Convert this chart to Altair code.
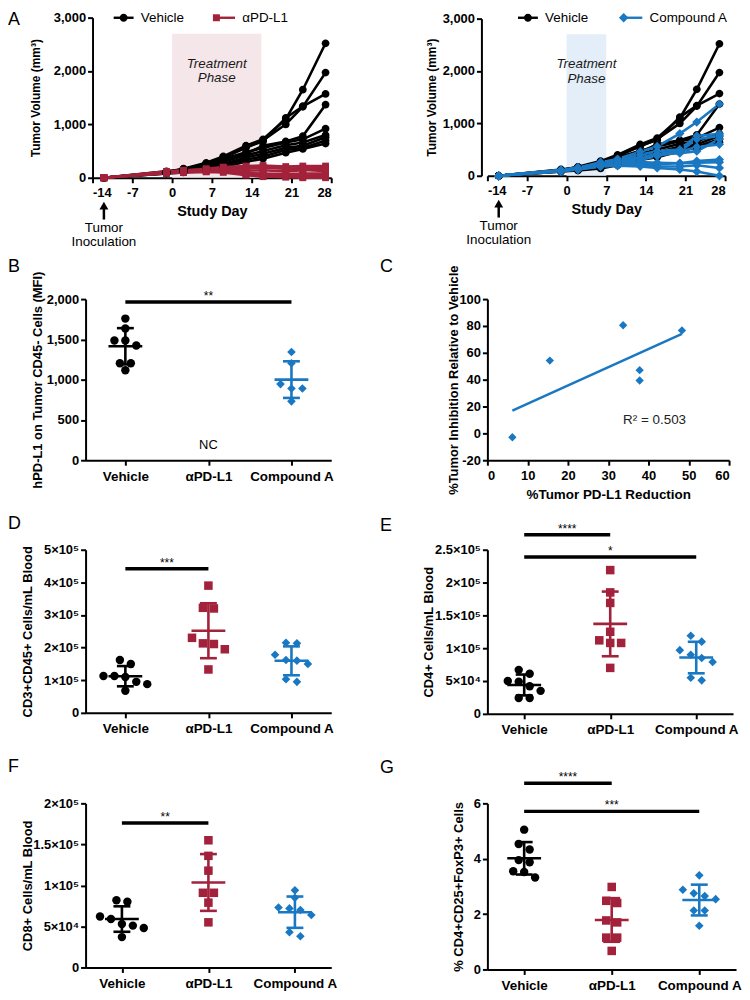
import altair as alt
import numpy as np
import pandas as pd

FONT = "Liberation Sans"

GROUPS = ["Vehicle", "αPD-L1", "Compound A"]
COLORS = ["#000000", "#A3223B", "#1A78C2"]
SHAPES = ["circle", "square", "diamond"]
SHADES = {"αPD-L1": "#F5E6EA", "Compound A": "#E4EEF8"}

# ---------------- Panel A: tumour volume (mm3) per mouse ----------------
DAYS = [-12, -1, 2, 6, 9, 13, 16, 20, 23, 27]
VEHICLE_GROWTH = [
    [0, 100, 170, 280, 400, 600, 720, 1100, 1650, 2520],
    [0, 110, 160, 260, 380, 560, 700, 1000, 1330, 1970],
    [0, 90, 150, 250, 370, 580, 680, 1120, 1340, 1570],
    [0, 100, 140, 220, 330, 450, 600, 680, 780, 1370],
    [0, 120, 160, 240, 350, 480, 560, 660, 720, 920],
    [0, 90, 130, 200, 300, 420, 500, 610, 660, 800],
    [0, 80, 120, 180, 260, 380, 450, 560, 600, 760],
    [0, 100, 110, 160, 240, 340, 400, 520, 560, 700],
    [0, 80, 100, 140, 200, 300, 355, 470, 540, 640],
]
APDL1_GROWTH = [
    [0, 100, 130, 170, 200, 220, 230, 210, 220, 220],
    [0, 110, 120, 150, 180, 170, 190, 170, 180, 180],
    [0, 90, 110, 140, 160, 130, 140, 120, 140, 140],
    [0, 100, 120, 130, 150, 90, 80, 70, 80, 80],
    [0, 80, 100, 120, 120, 60, 50, 40, 40, 50],
    [0, 90, 110, 130, 140, 75, 40, 25, 15, 20],
    [0, 100, 100, 110, 100, 50, 20, 10, 0, 0],
    [0, 120, 140, 160, 190, 200, 200, 180, 160, 120],
]
COMPOUND_A_GROWTH = [
    [0, 100, 150, 260, 320, 460, 560, 805, 1026, 1370],
    [0, 90, 140, 230, 290, 400, 470, 500, 760, 800],
    [0, 110, 160, 250, 280, 350, 420, 470, 700, 760],
    [0, 100, 130, 210, 260, 330, 400, 430, 470, 700],
    [0, 80, 120, 190, 240, 300, 380, 459, 550, 600],
    [0, 100, 140, 220, 240, 260, 250, 240, 280, 310],
    [0, 90, 130, 200, 220, 230, 220, 238, 250, 260],
    [0, 110, 120, 180, 200, 210, 180, 178, 200, 150],
    [0, 100, 125, 176, 190, 180, 150, 120, 80, 0],
]
TREATMENT_PHASE = {"αPD-L1": [0, 15.7], "Compound A": [0, 7]}
INOCULATION_DAY = -12

# ---------------- Panel B: hPD-L1 MFI ----------------
B_VALUES = [
    [1758, 1635, 1487, 1487, 1425, 1203, 1203, 1117],
    [],
    [1343, 1203, 945, 891, 891, 731],
]
B_SIG = [(0, 2, 1963, "**")]

# ---------------- Panel C: correlation ----------------
C_PDL1_REDUCTION = [6.2, 15.5, 33.7, 37.8, 37.8, 48.3]
C_TUMOR_INHIBITION = [-2.9, 54.2, 80.5, 47.1, 39.4, 76.7]

# ---------------- Panel D-G: blood cells ----------------
D_VALUES = [
    [162000, 150000, 113000, 113000, 110000, 95000, 88000, 68000],
    [390000, 322000, 320000, 230000, 213000, 211000, 195000, 133000],
    [215000, 213000, 178000, 162000, 160000, 150000, 103000, 95000],
]
D_SIG = [(0, 1, 441600, "***")]
E_VALUES = [
    [67000, 61000, 50000, 49000, 42000, 35000, 24000, 24000],
    [219000, 185000, 169000, 125000, 112000, 108000, 108000, 70000],
    [119000, 110000, 97000, 90000, 85000, 79000, 55000, 51000],
]
E_SIG = [(0, 1, 272700, "****"), (0, 2, 238900, "*")]
F_VALUES = [
    [82000, 80000, 62000, 59000, 53000, 51000, 48000, 37000],
    [155000, 136000, 118000, 91000, 91000, 79000, 55000],
    [94000, 85000, 73000, 72000, 70000, 64000, 43000, 38000],
]
F_SIG = [(0, 1, 176000, "**")]
G_VALUES = [
    [5.05, 4.53, 4.33, 3.95, 3.87, 3.55, 3.52, 3.32],
    [2.98, 2.48, 2.40, 1.77, 1.70, 1.15, 1.15, 0.67],
    [3.40, 2.88, 2.75, 2.65, 2.54, 2.13, 2.13, 1.58],
]
G_SIG = [(0, 1, 6.73, "****"), (0, 2, 5.71, "***")]

# ---------------- helpers ----------------
SUP = dict(zip("0123456789", "⁰¹²³⁴⁵⁶⁷⁸⁹"))
NUM_EXPR = "(datum.value < 0 ? '-' : '') + format(abs(datum.value), ',.0f')"


def sci_label(v):
    if v == 0:
        return "0"
    e = int(np.floor(np.log10(v) + 1e-9))
    m = v / 10 ** e
    return f"{m:g}×10{SUP[str(e)]}"


def label_expr(ticks, fn):
    parts = " : ".join(f"datum.value == {t} ? '{fn(t)}'" for t in ticks)
    return parts + " : ''"


def letter_layer(letter, lx, ly):
    return alt.Chart(pd.DataFrame({"t": [letter]})).mark_text(
        font=FONT, fontSize=18, align="left", baseline="top", color="black"
    ).encode(x=alt.value(lx), y=alt.value(ly), text="t:N")


# marker-only symbol paths (unit square [-1, 1])
MARKER_PATHS = {
    "circle": "M-0.8,0A0.8,0.8,0,1,0,0.8,0A0.8,0.8,0,1,0,-0.8,0Z",
    "square": "M-0.7,-0.7H0.7V0.7H-0.7Z",
    "diamond": "M0,-0.95L0.95,0L0,0.95L-0.95,0Z",
}
LINE_PATH = "M-2,0H2"
VEHICLE_LABEL_W = 44.3  # width of the "Vehicle" legend label at 13.5px


def growth_df(name, curves):
    rows = []
    for i, c in enumerate(curves):
        for d, v in zip(DAYS, c):
            rows.append({"group": name, "mouse": f"{name}-{i}", "day": d, "vol": v})
    return pd.DataFrame(rows)


def growth_panel(tidx, curves, width, xrange, yrange, cell_h, yaxis_off,
                 legend_x, legend_cp, title_x, letter=None):
    tname, tcolor, tshape = GROUPS[tidx], COLORS[tidx], SHAPES[tidx]
    dom = ["Vehicle", tname]
    common = dict(orient="none", legendX=legend_x, legendY=-7, direction="horizontal",
                  title=None, symbolSize=100, symbolStrokeWidth=2.4, labelFont=FONT,
                  labelFontSize=13.5, labelFontWeight="normal", labelColor="black",
                  labelOffset=10.5, padding=0)
    line_legend = alt.Legend(symbolType=LINE_PATH, columnPadding=legend_cp, **common)
    pt_legend = alt.Legend(labelExpr="''", columnPadding=legend_cp + VEHICLE_LABEL_W,
                           **common)

    xs = alt.Scale(domain=[-14, 28], range=xrange, nice=False, zero=False)
    xa = alt.Axis(values=[-14, -7, 0, 7, 14, 21, 28], title="Study Day",
                  offset=yrange[0] - cell_h, titleFontSize=14.5, labelPadding=4,
                  titlePadding=5, labelExpr=NUM_EXPR, labelOverlap=False)
    ys = alt.Scale(domain=[0, 3000], range=yrange, nice=False, zero=False)
    ya = alt.Axis(values=list(range(0, 3001, 500)), labelExpr=NUM_EXPR,
                  title="Tumor Volume (mm³)", titleFontSize=12, offset=yaxis_off,
                  titleX=title_x, titleY=(yrange[0] + yrange[1]) / 2,
                  titleBaseline="middle", labelPadding=2, labelOverlap=False)

    def X(f):
        return alt.X(f, type="quantitative", scale=xs, axis=xa)

    def Y(f):
        return alt.Y(f, type="quantitative", scale=ys, axis=ya)

    ph = TREATMENT_PHASE[tname]
    phase = pd.DataFrame({"x0": [ph[0]], "x1": [ph[1]], "xm": [(ph[0] + ph[1]) / 2],
                          "label": ["Treatment\nPhase"]})
    shade = alt.Chart(phase).mark_rect(color=SHADES[tname]).encode(
        x=X("x0"), x2="x1", y=alt.datum(0), y2=alt.datum(2700))
    ptxt = alt.Chart(phase).mark_text(
        lineBreak="\n", font=FONT, fontStyle="italic", fontSize=13.5, lineHeight=14.5,
        color="#1a1a1a", align="center", baseline="middle"
    ).encode(x=X("xm"), y=alt.datum(2130), text="label:N")

    df = pd.concat([growth_df("Vehicle", VEHICLE_GROWTH), growth_df(tname, curves)],
                   ignore_index=True)
    cscale = alt.Scale(domain=dom, range=["#000000", tcolor])
    lines = alt.Chart(df).mark_line(strokeWidth=2.6).encode(
        x=X("day"), y=Y("vol"), detail="mouse:N",
        color=alt.Color("group:N", scale=cscale, legend=line_legend))
    pts = alt.Chart(df).mark_point(filled=True, size=95, opacity=1).encode(
        x=X("day"), y=Y("vol"),
        color=alt.Color("group:N", scale=cscale, legend=pt_legend),
        shape=alt.Shape("group:N", scale=alt.Scale(
            domain=dom, range=[MARKER_PATHS["circle"], MARKER_PATHS[tshape]]),
            legend=pt_legend))

    inoc = pd.DataFrame({"day": [INOCULATION_DAY], "label": ["Tumor\nInoculation"]})
    ax = yrange[0]
    shaft = alt.Chart(inoc).mark_rule(strokeWidth=2.5, color="black").encode(
        x=X("day"), y=alt.value(ax + 29), y2=alt.value(ax + 42))
    head = alt.Chart(inoc).mark_point(shape="triangle-up", filled=True, size=80,
                                      color="black", opacity=1).encode(
        x=X("day"), y=alt.value(ax + 28))
    itxt = alt.Chart(inoc).mark_text(
        lineBreak="\n", font=FONT, fontSize=13.5, lineHeight=14, align="center",
        baseline="top", color="black").encode(
        x=X("day"), y=alt.value(ax + 44), text="label:N")
    layers = [shade, ptxt, lines, pts, shaft, head, itxt]
    if letter:
        layers.append(letter_layer(*letter))
    return alt.layer(*layers).resolve_scale(
        color="independent", shape="independent").properties(width=width, height=cell_h)


def swarm_offsets(values, px_per_val, px_per_cat, gap=6.0, spread=11.0):
    vals = np.asarray(values, float)
    order = list(np.argsort(-vals, kind="stable"))
    offs = np.zeros(len(vals))
    clusters, cur = [], [order[0]]
    for a, b in zip(order[:-1], order[1:]):
        if (vals[a] - vals[b]) * px_per_val < gap:
            cur.append(b)
        else:
            clusters.append(cur)
            cur = [b]
    clusters.append(cur)
    for cl in clusters:
        n = len(cl)
        for k, idx in enumerate(cl):
            offs[idx] = (k - (n - 1) / 2) * spread / px_per_cat
    return offs


def dot_panel(values, ymax, yticks, ytitle, width, height, pad, sigs, letter,
              title_x, sci, nc=None):
    step = width / (2 + 2 * pad)
    pxv = height / ymax
    rows, segs = [], []
    for gi, (g, vals) in enumerate(zip(GROUPS, values)):
        if not vals:
            continue
        offs = swarm_offsets(vals, pxv, step)
        for v, o in zip(vals, offs):
            rows.append({"group": g, "value": v, "xpos": gi + o})
        m, s = float(np.mean(vals)), float(np.std(vals, ddof=1))
        hm, hc = 17 / step, 8.5 / step
        segs += [
            {"group": g, "x1": gi, "x2": gi, "y1": m - s, "y2": m + s},
            {"group": g, "x1": gi - hm, "x2": gi + hm, "y1": m, "y2": m},
            {"group": g, "x1": gi - hc, "x2": gi + hc, "y1": m - s, "y2": m - s},
            {"group": g, "x1": gi - hc, "x2": gi + hc, "y1": m + s, "y2": m + s},
        ]
    pts = pd.DataFrame(rows)
    seg = pd.DataFrame(segs)
    sig = pd.DataFrame([{"x1": a, "x2": b, "xm": (a + b) / 2, "y": y, "label": t}
                        for a, b, y, t in sigs])

    xs = alt.Scale(domain=[-pad, 2 + pad], nice=False, zero=False)
    xa = alt.Axis(values=[0, 1, 2], title=None, labelFontSize=13.5, labelPadding=4,
                  labelExpr="['Vehicle','αPD-L1','Compound A'][datum.value]",
                  labelOverlap=False)
    ys = alt.Scale(domain=[0, ymax], nice=False, zero=False)
    yargs = dict(values=yticks, title=ytitle, titleX=title_x, titleY=height / 2,
                 titleBaseline="middle", labelPadding=2, labelOverlap=False)
    yargs["labelExpr"] = label_expr(yticks, sci_label) if sci else NUM_EXPR
    ya = alt.Axis(**yargs)

    def X(f):
        return alt.X(f, type="quantitative", scale=xs, axis=xa)

    def Y(f):
        return alt.Y(f, type="quantitative", scale=ys, axis=ya)

    col = alt.Color("group:N", scale=alt.Scale(domain=GROUPS, range=COLORS), legend=None)
    shp = alt.Shape("group:N", scale=alt.Scale(domain=GROUPS, range=SHAPES), legend=None)
    siz = alt.Size("group:N", scale=alt.Scale(domain=GROUPS, range=[72, 75, 70]), legend=None)

    layers = [
        alt.Chart(pts).mark_point(filled=True, opacity=1).encode(
            x=X("xpos"), y=Y("value"), color=col, shape=shp, size=siz),
        alt.Chart(seg).mark_rule(strokeWidth=2.6).encode(
            x=X("x1"), x2="x2", y=Y("y1"), y2="y2", color=col),
        alt.Chart(sig).mark_rule(strokeWidth=3.5, color="black").encode(
            x=X("x1"), x2="x2", y=Y("y")),
        alt.Chart(sig).mark_text(font=FONT, fontSize=12, baseline="alphabetic",
                                 align="center", dy=-2, color="black").encode(
            x=X("xm"), y=Y("y"), text="label:N"),
    ]
    if nc:
        ncdf = pd.DataFrame({"x": [nc[0]], "y": [nc[1]], "t": [nc[2]]})
        layers.append(alt.Chart(ncdf).mark_text(
            font=FONT, fontSize=13, color="black", align="center", baseline="middle"
        ).encode(x=X("x"), y=Y("y"), text="t:N"))
    layers.append(letter_layer(*letter))
    return alt.layer(*layers).properties(width=width, height=height)


def corr_panel(width, height, letter):
    df = pd.DataFrame({"red": C_PDL1_REDUCTION, "inh": C_TUMOR_INHIBITION})
    xs = alt.Scale(domain=[0, 60], nice=False, zero=False)
    xa = alt.Axis(values=list(range(0, 61, 10)), title="%Tumor PD-L1 Reduction",
                  titleFontSize=13.5, labelPadding=4, titlePadding=5,
                  labelExpr=NUM_EXPR, labelOverlap=False)
    ys = alt.Scale(domain=[-20, 100], nice=False, zero=False)
    ya = alt.Axis(values=list(range(-20, 101, 20)), labelExpr=NUM_EXPR,
                  title="%Tumor Inhibition Relative to Vehicle", titleX=-34,
                  titleY=height / 2, titleBaseline="middle", labelPadding=2,
                  labelOverlap=False)

    def X(f):
        return alt.X(f, type="quantitative", scale=xs, axis=xa)

    def Y(f):
        return alt.Y(f, type="quantitative", scale=ys, axis=ya)

    base = alt.Chart(df)
    pts = base.mark_point(shape="diamond", filled=True, size=70, opacity=1,
                          color=COLORS[2]).encode(x=X("red"), y=Y("inh"))
    reg = base.transform_regression("red", "inh").mark_line(
        color=COLORS[2], strokeWidth=2.5).encode(x=X("red"), y=Y("inh"))
    r2 = base.transform_regression("red", "inh", params=True).transform_calculate(
        label="'R² = ' + format(datum.rSquared, '.3f')", tx="41.5", ty="10"
    ).mark_text(font=FONT, fontSize=13.5, color="#222222", align="center",
                baseline="middle").encode(x=X("tx"), y=Y("ty"), text="label:N")
    return alt.layer(pts, reg, r2, letter_layer(*letter)).properties(
        width=width, height=height)


# ---------------- layout ----------------
ROW1_H = 193
a_left = growth_panel(1, APDL1_GROWTH, 247, [7, 247], [161, 0], ROW1_H, -7,
                      31.5, 25, -57, letter=("A", -78, -7))
a_right = growth_panel(2, COMPOUND_A_GROWTH, 239, [0, 239], [159, 1], ROW1_H, 6,
                       34, 28, -50)

b = dot_panel(B_VALUES, 2000, [0, 500, 1000, 1500, 2000],
              "hPD-L1 on Tumor CD45- Cells (MFI)", 247, 162, 0.479, B_SIG,
              ("B", -78, -41), -48, False, nc=(1, 185, "NC"))
c = corr_panel(243, 162, ("C", -108, -41))
d = dot_panel(D_VALUES, 500000, [0, 100000, 200000, 300000, 400000, 500000],
              "CD3+CD45+ Cells/mL Blood", 247, 164, 0.479, D_SIG,
              ("D", -78, -35), -58, True)
e = dot_panel(E_VALUES, 250000, [0, 50000, 100000, 150000, 200000, 250000],
              "CD4+ Cells/mL Blood", 247, 165, 0.428, E_SIG,
              ("E", -108, -33), -59, True)
f = dot_panel(F_VALUES, 200000, [0, 50000, 100000, 150000, 200000],
              "CD8+ Cells/mL Blood", 247, 165, 0.42, F_SIG,
              ("F", -78, -46), -58, True)
g = dot_panel(G_VALUES, 6, [0, 2, 4, 6],
              "% CD4+CD25+FoxP3+ Cells", 250, 167, 0.42, G_SIG,
              ("G", -108, -45), -29, False)

chart = alt.concat(
    a_left, a_right, b, c, d, e, f, g,
    columns=2, spacing={"row": 90, "column": 157}, bounds="flush", padding=0,
).resolve_scale(
    color="independent", shape="independent", size="independent"
).configure(font=FONT).configure_view(stroke=None).configure_axis(
    domainColor="black", domainWidth=2, tickColor="black", tickWidth=2, tickSize=5,
    labelFont=FONT, labelFontSize=13, labelFontWeight="bold", labelColor="black",
    titleFont=FONT, titleFontSize=13, titleFontWeight="bold", titleColor="black",
    grid=False, titlePadding=5, labelOverlap=False,
)

chart.save("out.html", embed_options={"renderer": "svg", "actions": False})
